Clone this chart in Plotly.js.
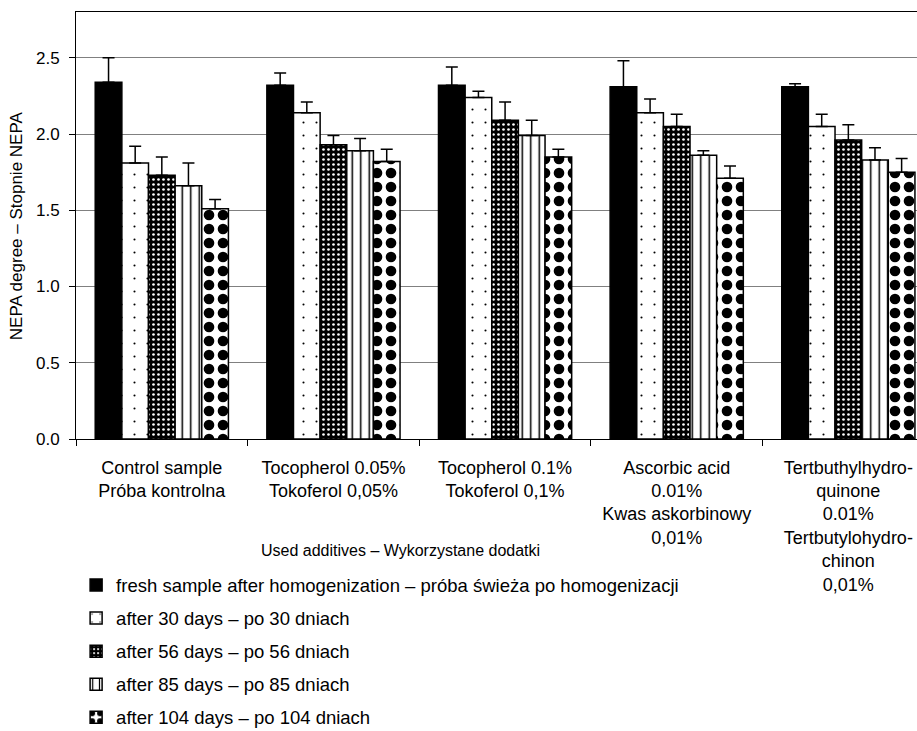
<!DOCTYPE html>
<html>
<head>
<meta charset="utf-8">
<script src="https://cdn.plot.ly/plotly-3.0.1.min.js"></script>
<style>html,body{margin:0;padding:0;background:#fff;}</style>
</head>
<body>
<div id="chart" style="width:917px;height:731px;"></div>
<script>
// Categories (x axis tick labels)
const categories = [
  "Control sample<br>Próba kontrolna",
  "Tocopherol 0.05%<br>Tokoferol 0,05%",
  "Tocopherol 0.1%<br>Tokoferol 0,1%",
  "Ascorbic acid<br>0.01%<br>Kwas askorbinowy<br>0,01%",
  "Tertbuthylhydro-<br>quinone<br>0.01%<br>Tertbutylohydro-<br>chinon<br>0,01%"
];

// Series names
const seriesNames = [
  "fresh sample after homogenization – próba świeża po homogenizacji",
  "after 30 days – po 30 dniach",
  "after 56 days – po 56 dniach",
  "after 85 days – po 85 dniach",
  "after 104 days – po 104 dniach"
];

// Mean NEPA degree values per series (one value per category)
const fresh   = [2.34, 2.32, 2.32, 2.31, 2.31];
const day30   = [1.81, 2.14, 2.24, 2.14, 2.05];
const day56   = [1.73, 1.93, 2.09, 2.05, 1.96];
const day85   = [1.66, 1.89, 1.99, 1.86, 1.83];
const day104  = [1.51, 1.82, 1.85, 1.71, 1.75];

// Upper error (standard deviation) per series
const freshErr  = [0.16, 0.08, 0.12, 0.17, 0.02];
const day30Err  = [0.11, 0.07, 0.04, 0.09, 0.08];
const day56Err  = [0.12, 0.06, 0.12, 0.08, 0.10];
const day85Err  = [0.15, 0.08, 0.10, 0.03, 0.08];
const day104Err = [0.06, 0.08, 0.05, 0.08, 0.09];

// Y axis ticks
const yTicks = [0, 0.5, 1.0, 1.5, 2.0, 2.5];

// Axis titles
const xTitle = "Used additives – Wykorzystane dodatki";
const yTitle = "NEPA degree – Stopnie NEPA";

const FONT = "Liberation Sans, Arial, sans-serif";

const values = [fresh, day30, day56, day85, day104];
const errs = [freshErr, day30Err, day56Err, day85Err, day104Err];

const patterns = [
  {shape: "", fillmode: "replace"},
  {shape: ".", fgcolor: "#000", bgcolor: "#fff", size: 13, solidity: 0.02, fillmode: "replace"},
  {shape: ".", fgcolor: "#fff", bgcolor: "#000", size: 5, solidity: 0.22, fillmode: "replace"},
  {shape: "|", fgcolor: "#000", bgcolor: "#fff", size: 8.5, solidity: 0.18, fillmode: "replace"},
  {shape: ".", fgcolor: "#000", bgcolor: "#fff", size: 14, solidity: 0.45, fillmode: "replace"}
];
const colors = ["#000", "#fff", "#000", "#fff", "#fff"];

const traces = values.map((v, i) => ({
  type: "bar",
  name: seriesNames[i],
  x: categories,
  y: v,
  legendgroup: "g" + i,
  marker: {
    color: colors[i],
    line: {color: "#000", width: 1.5},
    pattern: patterns[i]
  },
  error_y: {
    type: "data",
    array: errs[i],
    arrayminus: v.map(() => 0),
    symmetric: false,
    color: "#000",
    thickness: 1.5,
    width: 6
  },
  hoverinfo: "y"
}));

const layout = {
  width: 917,
  height: 731,
  margin: {l: 76, r: 0, t: 12, b: 292, autoexpand: false},
  paper_bgcolor: "#fff",
  plot_bgcolor: "#fff",
  font: {family: FONT, size: 17, color: "#000"},
  barmode: "group",
  bargap: 0.224,
  bargroupgap: 0,
  showlegend: true,
  legend: {
    xref: "container", yref: "container",
    x: 0.083, y: 0.225, xanchor: "left", yanchor: "top",
    orientation: "v",
    font: {family: FONT, size: 18.5, color: "#000"},
    tracegroupgap: 6,
    bgcolor: "rgba(0,0,0,0)"
  },
  xaxis: {
    type: "category",
    range: [-0.5, 4.4],
    showline: true,
    linecolor: "#000",
    linewidth: 1,
    mirror: true,
    ticks: "outside",
    tickson: "boundaries",
    ticklen: 6,
    tickcolor: "#000",
    showgrid: false,
    ticklabelstandoff: 12,
    tickfont: {family: FONT, size: 18, color: "#000"},
    fixedrange: true
  },
  yaxis: {
    range: [0, 2.8],
    tickvals: yTicks,
    tickformat: ".1f",
    showline: true,
    linecolor: "#000",
    linewidth: 1,
    ticks: "outside",
    ticklen: 6,
    tickcolor: "#000",
    showgrid: true,
    gridcolor: "#808080",
    gridwidth: 1,
    zeroline: false,
    ticklabelstandoff: 6,
    tickfont: {family: FONT, size: 17, color: "#000"}
  },
  annotations: [{
    text: xTitle,
    xref: "paper", yref: "paper",
    x: 0.386, y: -0.26,
    xanchor: "center", yanchor: "middle",
    showarrow: false,
    font: {family: FONT, size: 16, color: "#000"}
  }, {
    text: yTitle,
    xref: "paper", yref: "paper",
    x: -0.0705, y: 0.5,
    xanchor: "center", yanchor: "middle",
    textangle: -90,
    showarrow: false,
    font: {family: FONT, size: 17, color: "#000"}
  }]
};

Plotly.newPlot("chart", traces, layout, {staticPlot: true, displayModeBar: false});
</script>
</body>
</html>
